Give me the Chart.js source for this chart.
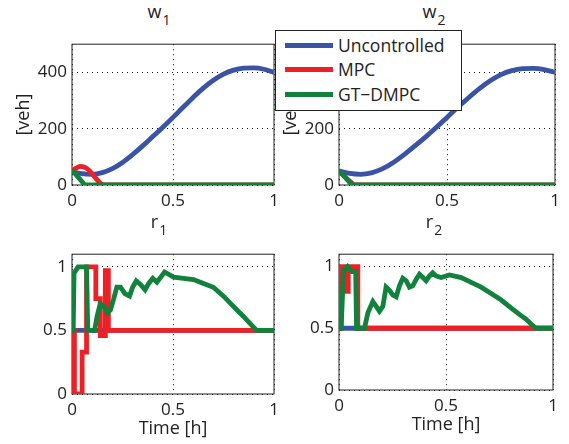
<!DOCTYPE html>
<html lang="en">
<head>
<meta charset="UTF-8"/>
<title>w and r</title>
<script src="https://cdn.jsdelivr.net/npm/chart.js@4.4.2/dist/chart.umd.min.js"></script>
<style>
body{margin:0;background:#fff;width:569px;height:444px;overflow:hidden;position:relative;font-family:"Open Sans",sans-serif;color:#222}
canvas{position:absolute}
.ttl{position:absolute;width:200px;text-align:center;font-size:18px;line-height:18px;white-space:nowrap}
.ttl span{font-size:14px;position:relative;top:7px;margin-left:1px}
#legend{position:absolute;left:275px;top:30px;width:187px;height:81px;box-sizing:border-box;border:1.3px solid #222;background:#fff;z-index:5}
.row{position:absolute;left:0;height:20px;line-height:20px;font-size:17.5px}
.row i{position:absolute;left:9px;top:8px;width:48px;height:5px}
.row b{position:absolute;left:62px;font-weight:normal;white-space:nowrap}
</style>
</head>
<body>
<canvas id="w1"></canvas>
<canvas id="w2"></canvas>
<canvas id="r1"></canvas>
<canvas id="r2"></canvas>
<div class="ttl" style="left:59px;top:2px">w<span>1</span></div>
<div class="ttl" style="left:334px;top:2px">w<span>2</span></div>
<div class="ttl" style="left:59px;top:212px">r<span>1</span></div>
<div class="ttl" style="left:334px;top:212px">r<span>2</span></div>
<div id="legend"></div>
<script>
// labels and ticks
const names=["Uncontrolled","MPC","GT\u2212DMPC"];
const colors=["#3a53a4","#ee2026","#10823c"];
const xTicks=[0,0.5,1];
const wTicks=[0,200,400];
const rTicks=[0,0.5,1];

// queue lengths w [veh]
const tUnc=[0,0.05,0.1,0.15,0.2,0.25,0.3,0.35,0.4,0.45,0.5,0.55,0.6,0.65,0.7,0.75,0.8,0.85,0.9,0.95,1];
const w1Unc=[48,40,38,44,58,80,108,139,172,205,240,276,311,344,372,394,408,415,416,411,400];
const w2Unc=[50,41,38,43,57,79,107,138,170,204,240,276,310,342,370,392,406,413,414,410,400];
const tW1Mpc=[0,0.02,0.04,0.06,0.08,0.1,0.12,0.14,0.155,1];
const w1Mpc=[50,60,66,64,55,40,22,7,0,0];
const tW1Gt=[0,0.064,1];
const w1Gt=[53,0,0];
const tW2Mpc=[0,0.07,1];
const w2Mpc=[48,0,0];
const tW2Gt=[0,0.06,1];
const w2Gt=[52,0,0];

// ramp rates r
const tRUnc=[0,1];
const rUnc=[0.5,0.5];
const tR1Mpc=[0,0.012,0.05,0.072,0.118,0.14,0.165,0.18,1];
const r1Mpc=[0.5,0,0.33,1,0.75,0.46,0.97,0.5,0.5];
const tR1Gt=[0,0.006,0.01,0.03,0.072,0.078,0.112,0.124,0.14,0.158,0.175,0.19,0.205,0.222,0.24,0.262,0.285,0.3,0.318,0.34,0.362,0.38,0.4,0.42,0.44,0.458,0.47,0.503,0.552,0.602,0.651,0.7,0.75,0.799,0.849,0.89,0.914,1];
const r1Gt=[0.5,0.5,0.95,1,1,0.5,0.5,0.61,0.71,0.69,0.64,0.66,0.74,0.84,0.84,0.79,0.77,0.84,0.89,0.86,0.82,0.87,0.91,0.88,0.92,0.96,0.95,0.92,0.91,0.9,0.87,0.84,0.77,0.69,0.61,0.54,0.5,0.5];
const tR2Mpc=[0,0.01,0.028,0.043,0.088,1];
const r2Mpc=[0.5,1,0.8,1,0.5,0.5];
const tR2Gt=[0,0.01,0.021,0.04,0.06,0.078,0.082,0.119,0.135,0.158,0.174,0.189,0.205,0.22,0.236,0.252,0.267,0.283,0.298,0.314,0.329,0.345,0.361,0.376,0.392,0.407,0.423,0.438,0.454,0.477,0.516,0.571,0.618,0.664,0.711,0.758,0.805,0.843,0.875,0.906,0.921,1];
const r2Gt=[0.5,0.5,0.97,1,0.96,0.96,0.5,0.5,0.625,0.716,0.677,0.638,0.677,0.833,0.807,0.768,0.755,0.846,0.906,0.885,0.833,0.846,0.898,0.938,0.911,0.885,0.924,0.95,0.924,0.911,0.932,0.911,0.872,0.833,0.781,0.729,0.664,0.612,0.573,0.521,0.5,0.5];

const leg=document.getElementById("legend");
names.forEach((n,i)=>{
  leg.insertAdjacentHTML("beforeend",`<div class="row" style="top:${3.7+i*24.5}px"><i style="background:${colors[i]}"></i><b>${n}</b></div>`);
});

const pts=(xs,ys)=>xs.map((x,i)=>({x,y:ys[i]}));
const font={family:"Open Sans",size:18};
const tickFont={family:"Open Sans",size:17};
const boxPlugin={id:"box",beforeDatasetsDraw(c){
  const a=c.chartArea,ctx=c.ctx;
  ctx.save();ctx.strokeStyle="#222";ctx.lineWidth=1;
  ctx.strokeRect(a.left,a.top,a.right-a.left,a.bottom-a.top);
  ctx.restore();
}};

function panel(id,area,xh,yTicks,ymax,series,ylab,xlab){
  const cv=document.getElementById(id);
  const W=area.r-area.l+72+12, H=area.b-area.t+10+xh;
  cv.width=W;cv.height=H;
  cv.style.left=(area.l-72)+"px";cv.style.top=(area.t-10)+"px";
  const ds=series.map((s,i)=>({
    label:names[i],data:pts(s[0],s[1]),borderColor:colors[i],borderWidth:4.8,
    pointRadius:0,fill:false,order:3-i,stepped:!!s[2],
    cubicInterpolationMode:s[3]?"monotone":"default",tension:0
  }));
  new Chart(cv,{type:"line",data:{datasets:ds},plugins:[boxPlugin],
    options:{responsive:false,animation:false,devicePixelRatio:1,
      layout:{padding:{left:0,top:10,right:12,bottom:0}},
      plugins:{legend:{display:false},tooltip:{enabled:false}},
      scales:{
        x:{type:"linear",min:0,max:1,
          afterBuildTicks:s=>{s.ticks=xTicks.map(v=>({value:v}))},
          afterFit:s=>{s.height=xh},
          ticks:{color:"#222",font:tickFont,padding:6,maxRotation:0,callback:v=>String(v)},
          grid:{color:"#111",lineWidth:1,drawTicks:false},
          border:{display:false,dash:[1,4]},
          title:{display:!!xlab,text:xlab||"",color:"#222",font,padding:0}},
        y:{type:"linear",min:0,max:ymax,
          afterBuildTicks:s=>{s.ticks=yTicks.map(v=>({value:v}))},
          afterFit:s=>{s.width=72},
          ticks:{color:"#222",font:tickFont,padding:5,callback:v=>String(v)},
          grid:{color:"#111",lineWidth:1,drawTicks:false},
          border:{display:false,dash:[1,4]},
          title:{display:!!ylab,text:ylab||"",color:"#222",font,padding:{top:13,bottom:0}}}
      }}});
}

panel("w1",{l:72,r:274,t:39,b:185},30,wTicks,500,
  [[tUnc,w1Unc,false,true],[tW1Mpc,w1Mpc,false,true],[tW1Gt,w1Gt,false,false]],"[veh]");
panel("w2",{l:339,r:555,t:39,b:185},30,wTicks,500,
  [[tUnc,w2Unc,false,true],[tW2Mpc,w2Mpc,false,false],[tW2Gt,w2Gt,false,false]],"[veh]");
panel("r1",{l:72,r:274,t:249,b:394},46,rTicks,1.1,
  [[tRUnc,rUnc,false,false],[tR1Mpc,r1Mpc,true,false],[tR1Gt,r1Gt,false,false]],null,"Time [h]");
panel("r2",{l:339,r:553,t:249,b:390},46,rTicks,1.1,
  [[tRUnc,rUnc,false,false],[tR2Mpc,r2Mpc,true,false],[tR2Gt,r2Gt,false,false]],null,"Time [h]");
</script>
</body>
</html>
